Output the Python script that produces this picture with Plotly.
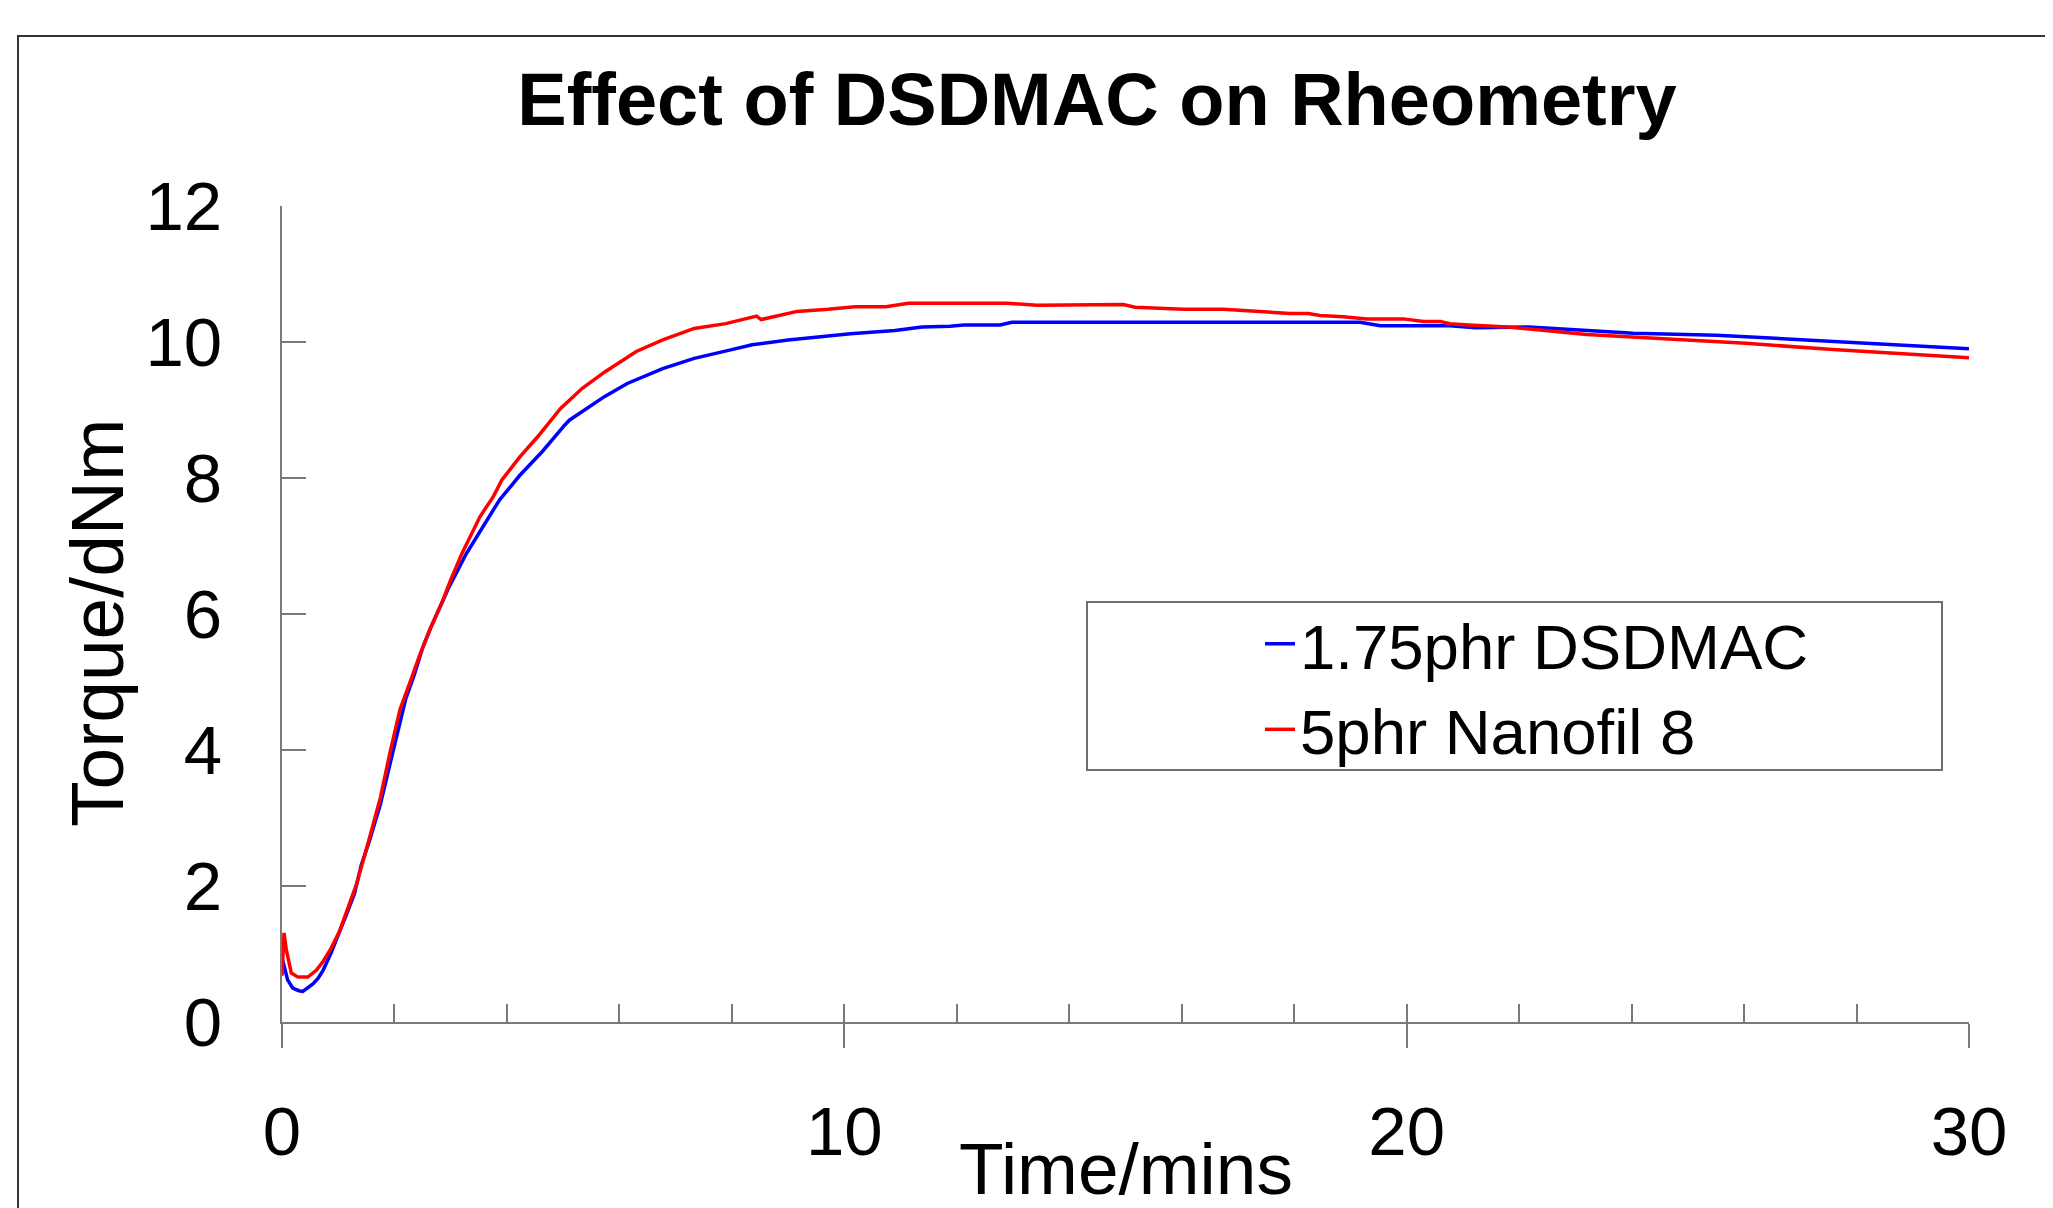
import plotly.graph_objects as go

# ---- data ----
time_dsdmac = [0, 0.02, 0.045, 0.1, 0.19, 0.3, 0.37, 0.46, 0.55, 0.64, 0.73, 0.87, 1.02, 1.14, 1.29,
               1.41, 1.55, 1.75, 1.98, 2.2, 2.35, 2.5, 2.64, 2.96, 3.28, 3.6, 3.87, 4.23, 4.63, 5.03,
               5.11, 5.74, 6.14, 6.77, 7.33, 7.96, 8.36, 9.0, 9.47, 10.11, 10.9, 11.38, 11.88, 12.12,
               12.77, 12.98, 19.17, 19.53, 20.77, 21.22, 22.18, 24.03, 25.51, 27.65, 30.0]
torque_dsdmac = [0.95, 0.88, 0.80, 0.62, 0.50, 0.46, 0.45, 0.50, 0.56, 0.64, 0.76, 1.01, 1.31, 1.57, 1.89,
                 2.31, 2.65, 3.2, 4.0, 4.75, 5.1, 5.5, 5.79, 6.38, 6.89, 7.31, 7.68, 8.04, 8.39, 8.78,
                 8.85, 9.2, 9.39, 9.61, 9.76, 9.88, 9.96, 10.03, 10.07, 10.12, 10.17, 10.22, 10.23, 10.25,
                 10.25, 10.29, 10.29, 10.24, 10.24, 10.21, 10.22, 10.13, 10.10, 10.0, 9.9]

time_nanofil = [0, 0.036, 0.077, 0.124, 0.166, 0.285, 0.46, 0.61, 0.73, 0.87, 1.02, 1.17, 1.33, 1.48,
                1.6, 1.75, 1.93, 2.1, 2.3, 2.45, 2.64, 2.84, 3.0, 3.2, 3.52, 3.76, 3.91, 4.23, 4.55,
                4.95, 5.34, 5.74, 6.3, 6.77, 7.33, 7.89, 8.44, 8.52, 9.16, 9.71, 10.19, 10.74, 11.14,
                12.89, 13.42, 14.55, 14.96, 15.17, 16.03, 16.74, 17.93, 18.25, 18.46, 18.87, 19.29,
                19.94, 20.3, 20.6, 20.77, 21.1, 21.8, 23.2, 26.03, 27.58, 30.0]
torque_nanofil = [0.68, 1.31, 1.06, 0.86, 0.72, 0.66, 0.66, 0.76, 0.89, 1.08, 1.33, 1.67, 2.04, 2.48,
                  2.85, 3.3, 4.0, 4.6, 5.05, 5.4, 5.79, 6.16, 6.5, 6.89, 7.43, 7.73, 7.97, 8.31, 8.61,
                  9.02, 9.32, 9.56, 9.86, 10.03, 10.2, 10.27, 10.38, 10.33, 10.45, 10.48, 10.52, 10.52, 10.57,
                  10.57, 10.54, 10.54, 10.55, 10.51, 10.48, 10.48, 10.42, 10.42, 10.39, 10.37, 10.34,
                  10.34, 10.30, 10.30, 10.27, 10.25, 10.22, 10.11, 9.98, 9.89, 9.77]

series_names = ["1.75phr DSDMAC", "5phr Nanofil 8"]
x_label_vals = [0, 10, 20, 30]
x_minor_vals = list(range(0, 31, 2))
y_tick_vals = list(range(0, 13, 2))

FONT = "Arial, 'Liberation Sans', sans-serif"
AXIS_GRAY = "#7a7a7a"

# page is 2053x1208; the page body adds an 8px offset before the figure
OFF = 8
W, H = 2053 - OFF, 1208 - OFF
L, R, T, B = 282 - OFF, 84, 206 - OFF, 186
PW, PH = W - L - R, H - T - B


def px_to_paper_x(px):
    return (px - OFF - L) / PW


def px_to_paper_y(py):
    return (H - B - (py - OFF)) / PH


fig = go.Figure()
fig.add_trace(go.Scatter(x=time_dsdmac, y=torque_dsdmac, mode="lines", name=series_names[0],
                         line=dict(color="#0000FF", width=3.5), xaxis="x", yaxis="y"))
fig.add_trace(go.Scatter(x=time_nanofil, y=torque_nanofil, mode="lines", name=series_names[1],
                         line=dict(color="#FF0000", width=3.5), xaxis="x2", yaxis="y"))

fig.update_layout(
    width=W, height=H,
    margin=dict(l=L, r=R, t=T, b=B, autoexpand=False),
    paper_bgcolor="white", plot_bgcolor="white",
    font=dict(family=FONT, color="black"),
    title=dict(text="<b>Effect of DSDMAC on Rheometry</b>", font=dict(size=74, family=FONT, color="black"),
               x=(1097 - OFF) / W, xref="container", xanchor="center",
               y=1 - (99 - OFF) / H, yref="container", yanchor="middle"),
    xaxis=dict(range=[0, 30], tickvals=x_label_vals, ticktext=[str(v) for v in x_label_vals],
               ticks="outside", ticklen=24, tickwidth=2, tickcolor=AXIS_GRAY,
               showline=True, linecolor=AXIS_GRAY, linewidth=2, showgrid=False, zeroline=False,
               tickfont=dict(size=69, family=FONT, color="black"), ticklabelstandoff=24),
    xaxis2=dict(range=[0, 30], overlaying="x", anchor="y", side="bottom", tickvals=x_minor_vals,
                ticks="inside", ticklen=18, tickwidth=2, tickcolor=AXIS_GRAY,
                showticklabels=False, showline=False, showgrid=False, zeroline=False),
    yaxis=dict(range=[0, 12], tickvals=y_tick_vals,
               ticks="inside", ticklen=24, tickwidth=2, tickcolor=AXIS_GRAY,
               showline=True, linecolor=AXIS_GRAY, linewidth=2, showgrid=False, zeroline=False,
               tickfont=dict(size=69, family=FONT, color="black"), ticklabelstandoff=44),
    showlegend=True,
    legend=dict(x=px_to_paper_x(1260), y=px_to_paper_y(596), xanchor="left", yanchor="top",
                bgcolor="rgba(0,0,0,0)", borderwidth=0,
                font=dict(size=63.5, family=FONT, color="black"), tracegroupgap=0),
    annotations=[
        dict(text="Time/mins", xref="paper", yref="paper", x=0.5, y=px_to_paper_y(1168),
             xanchor="center", yanchor="middle", showarrow=False,
             font=dict(size=73, family=FONT, color="black")),
        dict(text="Torque/dNm", xref="paper", yref="paper", x=px_to_paper_x(97), y=px_to_paper_y(623),
             xanchor="center", yanchor="middle", showarrow=False, textangle=-90,
             font=dict(size=75, family=FONT, color="black")),
    ],
    shapes=[
        # legend frame
        dict(type="rect", xref="paper", yref="paper",
             x0=px_to_paper_x(1087), x1=px_to_paper_x(1942), y0=px_to_paper_y(770), y1=px_to_paper_y(602),
             line=dict(color="#6e6e6e", width=2), fillcolor="rgba(0,0,0,0)", layer="below"),
        # outer chart frame (runs off the right and bottom of the image)
        dict(type="rect", xref="paper", yref="paper",
             x0=px_to_paper_x(18), x1=px_to_paper_x(2150), y0=px_to_paper_y(1300), y1=px_to_paper_y(36),
             line=dict(color="#333333", width=2), fillcolor="rgba(0,0,0,0)", layer="below"),
    ],
)

fig.write_html("out.html")
